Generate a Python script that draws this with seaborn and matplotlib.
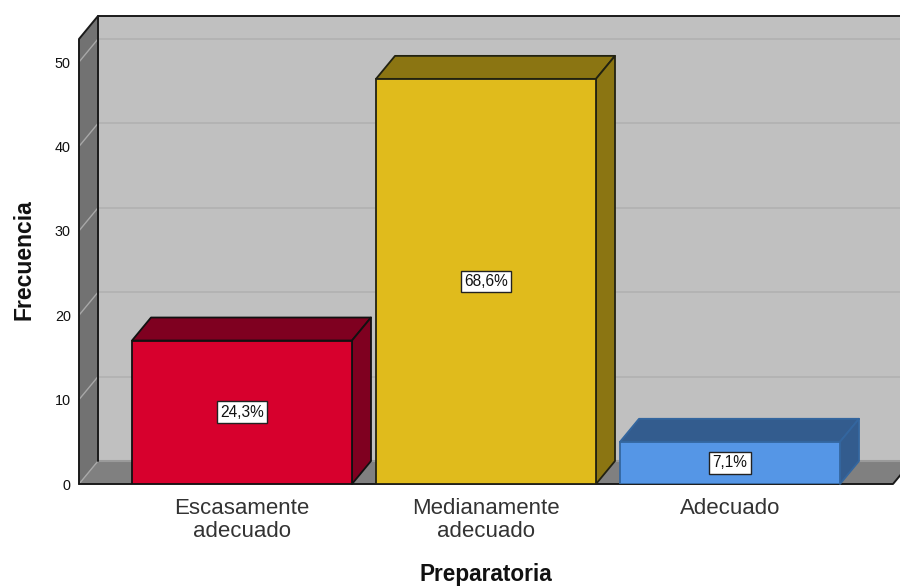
import matplotlib
matplotlib.use("Agg")
import matplotlib.pyplot as plt
import seaborn as sns
from matplotlib.patches import Polygon

categories = ["Escasamente\nadecuado", "Medianamente\nadecuado", "Adecuado"]
frequencies = [17, 48, 5]
percent_labels = ["24,3%", "68,6%", "7,1%"]
front_colors = ["#D7002D", "#E0BB1C", "#5596E6"]
shade_colors = ["#7F0020", "#8B7512", "#335C8E"]
edge_colors = ["#111111", "#222211", "#33669F"]
y_ticks = [0, 10, 20, 30, 40, 50]

sns.set_theme(style="white")
plt.rcParams["font.family"] = ["Liberation Sans", "DejaVu Sans"]

W, H = 900, 586
fig = plt.figure(figsize=(W / 100, H / 100), dpi=100, facecolor="white")
ax = fig.add_axes([79 / W, (H - 484) / H, (W - 79) / W, 445 / H])

PX_Y = 8.44
PX_X = 244.0
ymax = 445 / PX_Y
xmin = (79 - 242) / PX_X
xmax = (900 - 242) / PX_X
floor_right = (893 - 242) / PX_X
dx = 19 / PX_X
dy = 23 / PX_Y
bar_width = 220 / PX_X

sns.barplot(x=categories, y=frequencies, hue=categories, palette=front_colors,
            width=bar_width, dodge=False, legend=False, ax=ax, saturation=1,
            linewidth=1.3, edgecolor="#111111", zorder=3)
ax.set_xlim(xmin, xmax)
ax.set_ylim(0, ymax)

def poly(points, face, edge="none", lw=0, z=1):
    ax.add_patch(Polygon(points, closed=True, facecolor=face, edgecolor=edge,
                         linewidth=lw, zorder=z, clip_on=False, joinstyle="round"))

def line(xs, ys, color="#1A1A1A", lw=1.4, z=1.0):
    ax.plot(xs, ys, color=color, lw=lw, zorder=z, clip_on=False, solid_capstyle="round")

# back wall, left wall, floor
poly([(xmin + dx, dy), (xmax + 1, dy), (xmax + 1, ymax + dy), (xmin + dx, ymax + dy)], "#C0C0C0", z=0.5)
poly([(xmin, 0), (xmin, ymax), (xmin + dx, ymax + dy), (xmin + dx, dy)], "#727272", z=0.8)
poly([(floor_right, 0), (xmax + 1, 0), (xmax + 1, dy), (floor_right + dx, dy)], "#FFFFFF", z=0.6)
poly([(xmin, 0), (floor_right, 0), (floor_right + dx, dy), (xmin + dx, dy)], "#808080", z=0.8)

# gridlines on the walls
for t in y_ticks[1:]:
    line([xmin + dx, xmax], [t + dy, t + dy], color="#B2B2B2", lw=1.3, z=0.7)
    line([xmin, xmin + dx], [t, t + dy], color="#A8A8A8", lw=1.0, z=0.9)
line([xmin + dx, xmax], [dy, dy], color="#9A9A9A", lw=1.5, z=0.85)
line([xmin, xmin + dx], [0, dy], color="#A8A8A8", lw=1.0, z=0.9)

# box outline
line([xmin, xmin, xmin + dx, xmax], [0, ymax, ymax + dy, ymax + dy])
line([xmin + dx, xmin + dx], [dy, ymax + dy])
line([xmin, floor_right, floor_right + dx], [0, 0, dy], z=1.1)

# depth faces of every bar
for container, shade, edge in zip(ax.containers, shade_colors, edge_colors):
    bar = container[0]
    x0, x1 = bar.get_x(), bar.get_x() + bar.get_width()
    top = bar.get_height()
    poly([(x0, top), (x1, top), (x1 + dx, top + dy), (x0 + dx, top + dy)], shade, edge=edge, lw=1.3, z=2)
    poly([(x1, 0), (x1, top), (x1 + dx, top + dy), (x1 + dx, dy)], shade, edge=edge, lw=1.3, z=2)
    bar.set_edgecolor(edge)

for container, label in zip(ax.containers, percent_labels):
    ax.bar_label(container, labels=[label], label_type="center", fontsize=11.2,
                 color="#111111", zorder=6,
                 bbox=dict(boxstyle="square,pad=0.22", facecolor="white",
                           edgecolor="#222222", linewidth=1.0))

for s in ax.spines.values():
    s.set_visible(False)

ax.set_yticks(y_ticks)
ax.tick_params(axis="y", length=0, pad=6, labelsize=10.4, labelcolor="#111111")
ax.tick_params(axis="x", length=0, pad=10.2, labelsize=16.0, labelcolor="#333333")
for t in ax.get_xticklabels():
    t.set_linespacing(1.12)
ax.set_xlabel("")
ax.set_ylabel("")
fig.text(486 / W, 1 - 575 / H, "Preparatoria", ha="center", va="center",
         fontsize=16.3, fontweight="bold", color="#111111")
fig.text(24 / W, 1 - 260 / H, "Frecuencia", ha="center", va="center", rotation=90,
         fontsize=16.5, fontweight="bold", color="#111111")

fig.savefig("out.png", dpi=100, facecolor="white")
